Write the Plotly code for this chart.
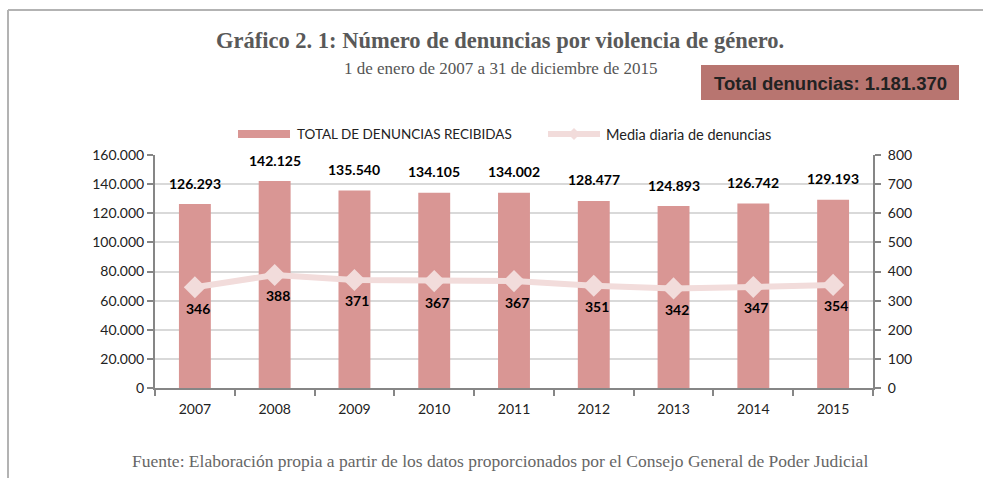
import plotly.graph_objects as go

years = ["2007", "2008", "2009", "2010", "2011", "2012", "2013", "2014", "2015"]
denuncias = [126293, 142125, 135540, 134105, 134002, 128477, 124893, 126742, 129193]
media_diaria = [346, 388, 371, 367, 367, 351, 342, 347, 354]
total_label = "Total denuncias: 1.181.370"
bar_name = "TOTAL DE DENUNCIAS RECIBIDAS"
line_name = "Media diaria de denuncias"

BAR_COLOR = "#d99694"
LINE_COLOR = "#f2dcdb"
AXIS_COLOR = "#868686"
GRID_COLOR = "#d9d9d9"
FONT = "Lato"


def fmt(v):
    return f"{v:,}".replace(",", ".")


fig = go.Figure()
fig.add_trace(go.Bar(
    x=years, y=denuncias, name=bar_name, marker=dict(color=BAR_COLOR, line=dict(width=0)),
    yaxis="y", showlegend=False, hoverinfo="skip",
))
fig.add_trace(go.Scatter(
    x=years, y=media_diaria, name=line_name, mode="lines+markers",
    line=dict(color=LINE_COLOR, width=6),
    marker=dict(symbol="diamond", size=17, color=LINE_COLOR),
    yaxis="y2", showlegend=False, hoverinfo="skip",
))

annotations = []
for i, v in enumerate(denuncias):
    annotations.append(dict(x=i, y=v, xref="x", yref="y", text=fmt(v), showarrow=False,
                            xanchor="center", yanchor="middle", yshift=21,
                            font=dict(family=FONT, size=14, color="#000000", weight="bold")))
for i, v in enumerate(media_diaria):
    annotations.append(dict(x=i, y=v, xref="x", yref="y2", text=str(v), showarrow=False,
                            xanchor="center", yanchor="middle", yshift=-21, xshift=3,
                            font=dict(family=FONT, size=14, color="#000000", weight="bold")))

L, R, T, B = 155, 110, 155, 90
W, H = 983, 478
PW, PH = W - L - R, H - T - B


def px(x):
    return (x - L) / PW


def py(y_top):
    # y measured from the top of the figure in pixels
    return ((H - y_top) - B) / PH


def txt(x, y, text, size, family, color, xanchor="center"):
    return dict(x=px(x), y=py(y), xref="paper", yref="paper", text=text, showarrow=False,
                xanchor=xanchor, yanchor="middle", font=dict(family=family, size=size, color=color))


annotations += [
    txt(500, 40, "<b>Gráfico 2. 1: Número de denuncias por violencia de género.</b>", 22.5, "Liberation Serif", "#595959"),
    txt(500, 68, "1 de enero de 2007 a 31 de diciembre de 2015", 17, "Liberation Serif", "#555555"),
    txt(500, 461, "Fuente: Elaboración propia a partir de los datos proporcionados por el Consejo General de Poder Judicial",
        17.5, "Liberation Serif", "#666666"),
    txt(830, 83, "<b>" + total_label + "</b>", 18.5, "Liberation Sans", "#222222"),
    txt(295, 134, bar_name, 13.5, FONT, "#222222", xanchor="left"),
    txt(604, 134, line_name, 14.5, FONT, "#222222", xanchor="left"),
]

shapes = [
    dict(type="line", xref="paper", yref="paper", x0=px(8), x1=px(983), y0=py(10), y1=py(10),
         line=dict(color="#b3b3b3", width=2)),
    dict(type="line", xref="paper", yref="paper", x0=px(8), x1=px(8), y0=py(10), y1=py(H),
         line=dict(color="#b3b3b3", width=2)),
    dict(type="rect", xref="paper", yref="paper", x0=px(701), x1=px(959), y0=py(100), y1=py(65),
         fillcolor="#b87570", line=dict(width=0), layer="below"),
    dict(type="rect", xref="paper", yref="paper", x0=px(238), x1=px(290), y0=py(138), y1=py(130),
         fillcolor=BAR_COLOR, line=dict(width=0)),
    dict(type="line", xref="paper", yref="paper", x0=px(548), x1=px(600), y0=py(134), y1=py(134),
         line=dict(color=LINE_COLOR, width=6)),
    dict(type="path", xref="paper", yref="paper",
         path=f"M {px(568)} {py(134)} L {px(574)} {py(128)} L {px(580)} {py(134)} L {px(574)} {py(140)} Z",
         fillcolor=LINE_COLOR, line=dict(width=0)),
]

tickfont = dict(family=FONT, size=14, color="#222222")
fig.update_layout(
    width=W, height=H,
    margin=dict(l=L, r=R, t=T, b=B, pad=0, autoexpand=False),
    paper_bgcolor="white", plot_bgcolor="white",
    separators=",.",
    bargap=0.6,
    showlegend=False,
    annotations=annotations,
    shapes=shapes,
    xaxis=dict(type="category", range=[-0.5, 8.5], autorange=False, showline=True, linecolor=AXIS_COLOR,
               linewidth=2, ticks="outside", tickson="boundaries", ticklen=6, tickcolor=AXIS_COLOR,
               tickwidth=1.5, tickangle=0, automargin=False, ticklabelstandoff=7,
               tickfont=tickfont, showgrid=False, zeroline=False),
    yaxis=dict(range=[0, 160000], autorange=False, dtick=20000, tickformat=",.0f", showline=True,
               linecolor=AXIS_COLOR, automargin=False,
               linewidth=2, ticks="outside", ticklen=6, tickcolor=AXIS_COLOR, tickwidth=1.5,
               showgrid=True, gridcolor=GRID_COLOR, gridwidth=1.5, zeroline=False, tickfont=tickfont),
    yaxis2=dict(range=[0, 800], autorange=False, dtick=100, overlaying="y", side="right", showline=True,
                linecolor=AXIS_COLOR, linewidth=2, ticks="outside", ticklen=6, tickcolor=AXIS_COLOR,
                automargin=False, ticklabelstandoff=4,
                tickwidth=1.5, showgrid=False, zeroline=False, tickfont=tickfont),
)

fig.write_html("out.html", config={"displayModeBar": False},
               post_script="document.body.style.margin='0px';document.body.style.overflow='hidden';")
